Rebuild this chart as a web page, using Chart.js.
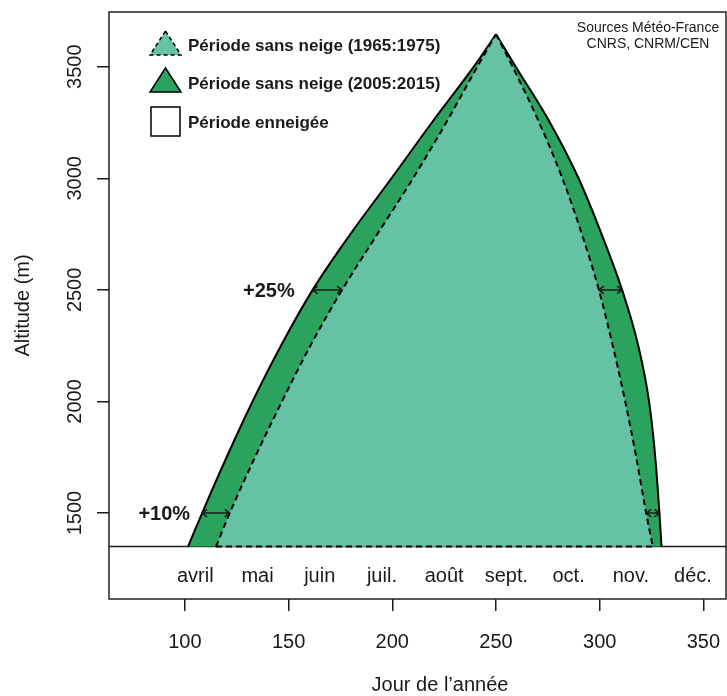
<!DOCTYPE html>
<html>
<head>
<meta charset="utf-8">
<script src="https://cdn.jsdelivr.net/npm/chart.js@4.4.1/dist/chart.umd.min.js"></script>
<style>
  body { margin: 0; background: #fff; }
  canvas { display: block; }
</style>
</head>
<body>
<canvas id="chart" width="727" height="696"></canvas>
<script>
// altitudes (m) : montée jusqu'au sommet, puis descente
const altitudesUp = [1350, 1500, 1750, 2000, 2250, 2500, 2750, 3000, 3250, 3500, 3645];
const altitudesDown = [3500, 3250, 3000, 2750, 2500, 2250, 2000, 1750, 1500, 1350];

// Période sans neige (1965:1975) - jour de début / de fin
const oldStartDays = [115.0, 121.6, 133.8, 146.8, 160.5, 175.8, 192.8, 210.0, 226.0, 241.0, 250];
const oldEndDays = [258.0, 270.8, 282.0, 291.4, 299.6, 306.3, 312.3, 317.6, 322.4, 325.6];

// Période sans neige (2005:2015)
const recentStartDays = [101.5, 108.3, 120.1, 132.6, 146.3, 161.6, 179.8, 199.6, 219.1, 239.3, 250];
const recentEndDays = [259.5, 276.0, 289.8, 300.9, 310.8, 318.6, 323.8, 326.8, 328.8, 329.8];

const xTicks = [100, 150, 200, 250, 300, 350];
const yTicks = [1500, 2000, 2500, 3000, 3500];
const months = ["avril", "mai", "juin", "juil.", "août", "sept.", "oct.", "nov.", "déc."];
const monthDays = [105, 135, 165, 195, 225, 255, 285, 315, 345];
const baseAltitude = 1350;

const FONT = '"Liberation Sans", Arial, Helvetica, sans-serif';
const LIGHT = "#66c2a5";
const DARK = "#2ca25f";
const INK = "#1a1a1a";

const annotations = [
  { alt: 2500, text: "+25%", dx: -18 },
  { alt: 1500, text: "+10%", dx: -12 }
];

function risingBranch(days) {
  return days.map((d, i) => ({ x: d, y: altitudesUp[i] }));
}

function fallingBranch(startDays, endDays) {
  const top = startDays.length - 1;
  const peak = { x: startDays[top], y: altitudesUp[top] };
  return [peak].concat(endDays.map((d, i) => ({ x: d, y: altitudesDown[i] })));
}

function area(label, data, color, dash, order) {
  return {
    label,
    data,
    showLine: true,
    borderColor: "#000",
    borderWidth: 2,
    borderDash: dash,
    backgroundColor: color,
    pointRadius: 0,
    cubicInterpolationMode: "monotone",
    fill: { value: baseAltitude },
    order
  };
}

function arrow(ctx, x1, x2, y) {
  const h = 5;
  ctx.beginPath();
  ctx.moveTo(x1, y);
  ctx.lineTo(x2, y);
  ctx.moveTo(x1 + h, y - h * 0.75);
  ctx.lineTo(x1, y);
  ctx.lineTo(x1 + h, y + h * 0.75);
  ctx.moveTo(x2 - h, y - h * 0.75);
  ctx.lineTo(x2, y);
  ctx.lineTo(x2 - h, y + h * 0.75);
  ctx.stroke();
}

function triangle(ctx, x, y, w, h) {
  ctx.beginPath();
  ctx.moveTo(x + w / 2, y);
  ctx.lineTo(x + w, y + h);
  ctx.lineTo(x, y + h);
  ctx.closePath();
  ctx.fill();
  ctx.stroke();
}

const decorations = {
  id: "decorations",
  beforeDatasetsDraw(chart) {
    const { ctx, chartArea } = chart;
    const y = chart.scales.y.getPixelForValue(baseAltitude);
    ctx.save();
    ctx.strokeStyle = INK;
    ctx.lineWidth = 1.5;
    ctx.beginPath();
    ctx.moveTo(chartArea.left, y);
    ctx.lineTo(chartArea.right, y);
    ctx.stroke();
    ctx.restore();
  },
  afterDraw(chart) {
    const { ctx, chartArea } = chart;
    const sx = chart.scales.x;
    const sy = chart.scales.y;
    ctx.save();

    // cadre
    ctx.strokeStyle = "#222";
    ctx.lineWidth = 1.5;
    ctx.strokeRect(chartArea.left, chartArea.top, chartArea.right - chartArea.left, chartArea.bottom - chartArea.top);

    ctx.fillStyle = INK;
    ctx.textBaseline = "alphabetic";
    ctx.font = "20px " + FONT;

    // graduations
    ctx.textAlign = "center";
    xTicks.forEach(v => ctx.fillText(String(v), sx.getPixelForValue(v), 648));
    yTicks.forEach(v => {
      ctx.save();
      ctx.translate(81, sy.getPixelForValue(v));
      ctx.rotate(-Math.PI / 2);
      ctx.fillText(String(v), 0, 0);
      ctx.restore();
    });

    // mois
    months.forEach((m, i) => ctx.fillText(m, sx.getPixelForValue(monthDays[i]), 582));

    // titres d'axes
    ctx.fillText("Jour de l\u2019année", 440, 691);
    ctx.save();
    ctx.translate(29, (chartArea.top + chartArea.bottom) / 2);
    ctx.rotate(-Math.PI / 2);
    ctx.fillText("Altitude (m)", 0, 0);
    ctx.restore();

    // sources
    ctx.font = "14px " + FONT;
    ctx.fillText("Sources Météo-France", 648, 32);
    ctx.fillText("CNRS, CNRM/CEN", 648, 48);

    // flèches et pourcentages
    ctx.strokeStyle = INK;
    ctx.lineWidth = 1.5;
    ctx.font = "bold 20px " + FONT;
    ctx.textAlign = "right";
    annotations.forEach(a => {
      const i = altitudesUp.indexOf(a.alt);
      const j = altitudesDown.indexOf(a.alt);
      const y = sy.getPixelForValue(a.alt);
      const l1 = sx.getPixelForValue(recentStartDays[i]);
      const l2 = sx.getPixelForValue(oldStartDays[i]);
      const r1 = sx.getPixelForValue(oldEndDays[j]);
      const r2 = sx.getPixelForValue(recentEndDays[j]);
      arrow(ctx, l1, l2, y);
      arrow(ctx, r1, r2, y);
      ctx.fillText(a.text, l1 + a.dx, y + 7);
    });

    // légende
    ctx.lineWidth = 1.5;
    ctx.strokeStyle = "#000";
    ctx.fillStyle = LIGHT;
    ctx.setLineDash([4, 3]);
    triangle(ctx, 150, 31, 31, 24);
    ctx.setLineDash([]);
    ctx.fillStyle = DARK;
    triangle(ctx, 150, 68, 31, 24);
    ctx.fillStyle = "#fff";
    ctx.fillRect(151, 107, 29, 29);
    ctx.strokeRect(151, 107, 29, 29);

    ctx.fillStyle = INK;
    ctx.textAlign = "left";
    ctx.font = "bold 17px " + FONT;
    ctx.fillText("Période sans neige (1965:1975)", 188, 51);
    ctx.fillText("Période sans neige (2005:2015)", 188, 89);
    ctx.fillText("Période enneigée", 188, 128);

    ctx.restore();
  }
};

const oldBottom = [
  { x: oldStartDays[0], y: altitudesUp[0] },
  { x: oldEndDays[oldEndDays.length - 1], y: altitudesDown[altitudesDown.length - 1] }
];

new Chart(document.getElementById("chart"), {
  type: "scatter",
  data: {
    datasets: [
      {
        label: "bas 1965:1975",
        data: oldBottom,
        showLine: true,
        borderColor: "#000",
        borderWidth: 2,
        borderDash: [6, 4],
        pointRadius: 0,
        fill: false,
        order: -1
      },
      area("Période sans neige (1965:1975)", risingBranch(oldStartDays), LIGHT, [6, 4], 0),
      area("Période sans neige (1965:1975)", fallingBranch(oldStartDays, oldEndDays), LIGHT, [6, 4], 0),
      area("Période sans neige (2005:2015)", risingBranch(recentStartDays), DARK, [], 1),
      area("Période sans neige (2005:2015)", fallingBranch(recentStartDays, recentEndDays), DARK, [], 1)
    ]
  },
  options: {
    responsive: false,
    animation: false,
    devicePixelRatio: 1,
    layout: { padding: { top: 12, right: 1, left: 0, bottom: 0 } },
    plugins: {
      legend: { display: false },
      tooltip: { enabled: false }
    },
    scales: {
      x: {
        type: "linear",
        min: 63.4,
        max: 360.9,
        afterBuildTicks: s => { s.ticks = xTicks.map(v => ({ value: v })); },
        afterFit: s => { s.height = 97; },
        ticks: { display: false },
        border: { display: false },
        grid: { drawOnChartArea: false, drawTicks: true, tickLength: 12, color: INK, lineWidth: 1.5 }
      },
      y: {
        type: "linear",
        min: 1115,
        max: 3745,
        afterBuildTicks: s => { s.ticks = yTicks.map(v => ({ value: v })); },
        afterFit: s => { s.width = 109; },
        ticks: { display: false },
        border: { display: false },
        grid: { drawOnChartArea: false, drawTicks: true, tickLength: 12, color: INK, lineWidth: 1.5 }
      }
    }
  },
  plugins: [decorations]
});
</script>
</body>
</html>
